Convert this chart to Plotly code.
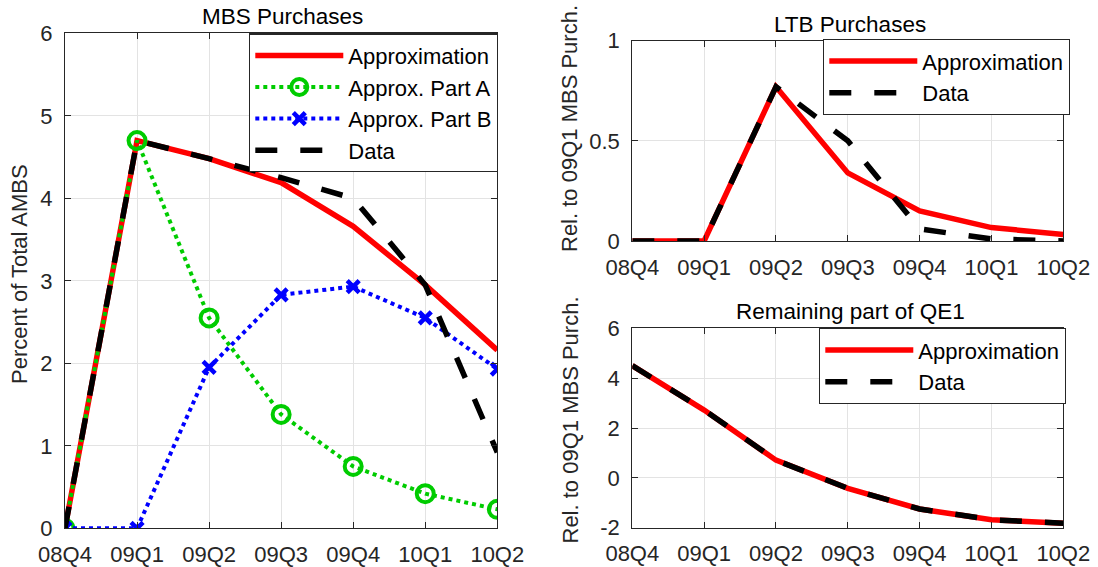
import plotly.graph_objects as go

quarters = ["08Q4", "09Q1", "09Q2", "09Q3", "09Q4", "10Q1", "10Q2"]

# MBS Purchases (percent of total AMBS)
mbs_approx = [0.0, 4.70, 4.48, 4.19, 3.66, 2.95, 2.16]
mbs_part_a = [0.0, 4.70, 2.55, 1.38, 0.75, 0.42, 0.23]
mbs_part_b = [0.0, 0.0, 1.95, 2.83, 2.93, 2.55, 1.93]
mbs_data = [0.0, 4.70, 4.48, 4.25, 4.00, 2.95, 0.92]

# LTB Purchases (relative to 09Q1 MBS purchases)
ltb_approx = [0.0, 0.0, 0.77, 0.34, 0.15, 0.067, 0.033]
ltb_data = [0.0, 0.0, 0.77, 0.50, 0.06, 0.01, 0.0]

# Remaining part of QE1
rem_approx = [4.50, 2.72, 0.71, -0.42, -1.25, -1.68, -1.82]
rem_data = [4.50, 2.72, 0.71, -0.42, -1.25, -1.68, -1.82]

RED = "#ff0000"
GREEN = "#00cc00"
BLUE = "#0000ff"
BLACK = "#000000"
AXC = "#262626"
GRID = "#e3e3e3"
FONT = "Liberation Sans, Arial, sans-serif"

W, H = 1098, 567
def px(x):
    return x / W
def py(y):
    return 1 - y / H

fig = go.Figure()

dash_data = "22px,23px"
LW = 5.5

# Left panel
fig.add_trace(go.Scatter(x=quarters, y=mbs_approx, name="Approximation", mode="lines",
                         line=dict(color=RED, width=LW), xaxis="x", yaxis="y", legend="legend"))
fig.add_trace(go.Scatter(x=quarters, y=mbs_part_a, name="Approx. Part A", mode="lines+markers",
                         line=dict(color=GREEN, width=4, dash="dot"),
                         marker=dict(symbol="circle-open", size=17, color=GREEN, line=dict(width=4, color=GREEN)),
                         xaxis="x", yaxis="y", legend="legend"))
fig.add_trace(go.Scatter(x=quarters, y=mbs_part_b, name="Approx. Part B", mode="lines+markers",
                         line=dict(color=BLUE, width=4, dash="dot"),
                         marker=dict(symbol="x-thin", size=12, color=BLUE, line=dict(width=4.5, color=BLUE)),
                         xaxis="x", yaxis="y", legend="legend"))
fig.add_trace(go.Scatter(x=quarters, y=mbs_data, name="Data", mode="lines",
                         line=dict(color=BLACK, width=LW, dash=dash_data), xaxis="x", yaxis="y", legend="legend"))

# Right top
fig.add_trace(go.Scatter(x=quarters, y=ltb_approx, name="Approximation", mode="lines",
                         line=dict(color=RED, width=LW), xaxis="x2", yaxis="y2", legend="legend2"))
fig.add_trace(go.Scatter(x=quarters, y=ltb_data, name="Data", mode="lines",
                         line=dict(color=BLACK, width=LW, dash=dash_data), xaxis="x2", yaxis="y2", legend="legend2"))

# Right bottom
fig.add_trace(go.Scatter(x=quarters, y=rem_approx, name="Approximation", mode="lines",
                         line=dict(color=RED, width=LW), xaxis="x3", yaxis="y3", legend="legend3"))
fig.add_trace(go.Scatter(x=quarters, y=rem_data, name="Data", mode="lines",
                         line=dict(color=BLACK, width=LW, dash=dash_data), xaxis="x3", yaxis="y3", legend="legend3"))

tickfont = dict(family=FONT, size=22, color=AXC)

def xaxis(domain, anchor):
    return dict(domain=domain, anchor=anchor, type="category", categoryorder="array",
                categoryarray=quarters, range=[0, 6], showgrid=True, gridcolor=GRID, gridwidth=1.3,
                showline=True, linecolor=AXC, linewidth=1.3, mirror="ticks", ticks="inside",
                ticklen=6, tickcolor=AXC, tickwidth=1.3, tickfont=tickfont, zeroline=False,
                ticklabelstandoff=6, automargin=False, fixedrange=True)

def yaxis(domain, anchor, rng, tickvals, ticktext):
    return dict(domain=domain, anchor=anchor, range=rng, tickvals=tickvals, ticktext=ticktext,
                showgrid=True, gridcolor=GRID, gridwidth=1.3, showline=True, linecolor=AXC,
                linewidth=1.3, mirror="ticks", ticks="inside", ticklen=6, tickcolor=AXC,
                tickwidth=1.3, tickfont=tickfont, zeroline=False, ticklabelstandoff=7,
                automargin=False, fixedrange=True)

left_x = [px(65), px(497.3)]
right_x = [px(632.3), px(1063.3)]

legend_font = dict(family=FONT, size=22, color="#000000")
def legend(xr, yt):
    return dict(x=px(xr), y=py(yt), xanchor="right", yanchor="top", xref="paper", yref="paper",
                bgcolor="white", bordercolor=AXC, borderwidth=1.3, font=legend_font,
                itemwidth=88, tracegroupgap=0)

fig.update_layout(
    width=W, height=H, margin=dict(l=0, r=0, t=0, b=0),
    paper_bgcolor="white", plot_bgcolor="white",
    font=dict(family=FONT, color="#000000"),
    xaxis=xaxis(left_x, "y"),
    yaxis=yaxis([py(528.3), py(33.3)], "x", [0, 6], [0, 1, 2, 3, 4, 5, 6], ["0", "1", "2", "3", "4", "5", "6"]),
    xaxis2=xaxis(right_x, "y2"),
    yaxis2=yaxis([py(241), py(40.7)], "x2", [0, 1], [0, 0.5, 1], ["0", "0.5", "1"]),
    xaxis3=xaxis(right_x, "y3"),
    yaxis3=yaxis([py(527.7), py(328.3)], "x3", [-2, 6], [-2, 0, 2, 4, 6], ["-2", "0", "2", "4", "6"]),
    legend=legend(498, 33.3),
    legend2=legend(1070, 39),
    legend3=legend(1066, 328),
    showlegend=True,
)

title_font = dict(family=FONT, size=22.5, color="#000000")
label_font = dict(family=FONT, size=22, color=AXC)
annotations = [
    dict(text="MBS Purchases", x=px(282), y=py(17), font=title_font),
    dict(text="LTB Purchases", x=px(849.5), y=py(24), font=title_font),
    dict(text="Remaining part of QE1", x=px(850.5), y=py(311), font=title_font),
    dict(text="Percent of Total AMBS", x=px(19), y=py(274), textangle=-90, font=label_font),
    dict(text="Rel. to 09Q1 MBS Purch.", x=px(570), y=py(129), textangle=-90, font=label_font),
    dict(text="Rel. to 09Q1 MBS Purch.", x=px(570), y=py(420.5), textangle=-90, font=label_font),
]
for a in annotations:
    a.update(xref="paper", yref="paper", showarrow=False, xanchor="center", yanchor="middle")
fig.update_layout(annotations=annotations)

fig.write_html("out.html")
